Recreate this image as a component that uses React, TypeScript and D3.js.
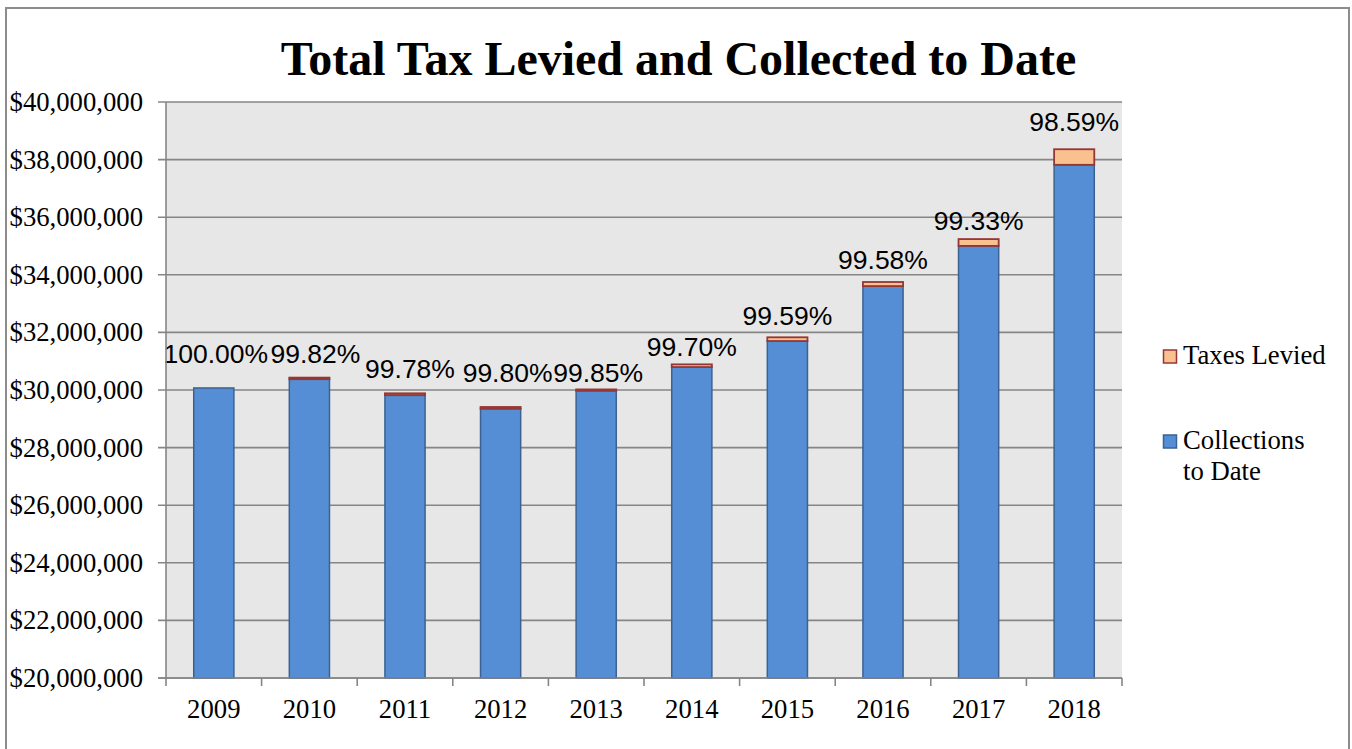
import React from "react";
import * as d3 from "d3";

// ---- data ----
const years = ["2009", "2010", "2011", "2012", "2013", "2014", "2015", "2016", "2017", "2018"];
const collectionsToDate = [30070000, 30375000, 29819000, 29351000, 29975000, 30797000, 31700000, 33608000, 35004000, 37819000];
const taxesLevied = [30070000, 30430000, 29885000, 29410000, 30020000, 30890000, 31830000, 33750000, 35240000, 38360000];
const collectionRate = ["100.00%", "99.82%", "99.78%", "99.80%", "99.85%", "99.70%", "99.59%", "99.58%", "99.33%", "98.59%"];
const yTicks = [20000000, 22000000, 24000000, 26000000, 28000000, 30000000, 32000000, 34000000, 36000000, 38000000, 40000000];

// ---- layout (not data) ----
const W = 1352;
const H = 749;
const plot = { left: 166, right: 1122, top: 102, bottom: 678 };
const labelGap = [25, 15, 15, 25, 7, 8, 12, 13, 9, 18];
const labelShift = [2, 6, 5, 7, 2, 0, 0, 0, 0, 0];

const BLUE = "#558ED5";
const BLUE_EDGE = "#3B6290";
const PEACH = "#FAC090";
const PEACH_EDGE = "#953735";
const GRID = "#868686";

export default function App() {
  const x = d3.scaleBand<string>().domain(years).range([plot.left, plot.right]).padding(0);
  const y = d3.scaleLinear().domain([20000000, 40000000]).range([plot.bottom, plot.top]);
  const bw = x.bandwidth() * 0.42;
  const fmt = (v: number) => "$" + d3.format(",")(v);
  const serif = "'Liberation Serif', 'Times New Roman', serif";
  const sans = "'Liberation Sans', Arial, sans-serif";
  const fs = 26.7;

  return (
    <svg width={W} height={H} style={{ position: "absolute", left: 0, top: 0, background: "#fff" }}>
      <rect x={6} y={8} width={1343} height={760} fill="#fff" stroke="#8c8c8c" strokeWidth={2} />
      <text x={678.5} y={75} textAnchor="middle" fontFamily={serif} fontWeight="bold" fontSize={48} fill="#000">
        Total Tax Levied and Collected to Date
      </text>
      <rect x={plot.left} y={plot.top} width={plot.right - plot.left} height={plot.bottom - plot.top} fill="#E7E7E7" />
      {yTicks.map((t) => (
        <g key={t}>
          <line x1={158} x2={plot.right} y1={y(t)} y2={y(t)} stroke={GRID} strokeWidth={1.6} />
          <text x={143} y={y(t) + 9} textAnchor="end" fontFamily={serif} fontSize={fs} fill="#000">
            {fmt(t)}
          </text>
        </g>
      ))}
      {years.map((yr, i) => {
        const cx = (x(yr) as number) + x.bandwidth() / 2;
        const yc = y(collectionsToDate[i]);
        const yl = y(taxesLevied[i]);
        return (
          <g key={yr}>
            <rect x={cx - bw / 2} y={yc} width={bw} height={plot.bottom - yc} fill={BLUE} stroke={BLUE_EDGE} strokeWidth={1.5} />
            {taxesLevied[i] - collectionsToDate[i] > 0 && (
              <rect x={cx - bw / 2} y={yl} width={bw} height={Math.max(yc - yl, 0.5)} fill={PEACH} stroke={PEACH_EDGE} strokeWidth={1.8} />
            )}
            <text x={cx + labelShift[i]} y={yl - labelGap[i]} textAnchor="middle" fontFamily={sans} fontSize={26.5} fill="#000">
              {collectionRate[i]}
            </text>
            <text x={cx} y={718} textAnchor="middle" fontFamily={serif} fontSize={fs} fill="#000">
              {yr}
            </text>
          </g>
        );
      })}
      <line x1={plot.left} x2={plot.left} y1={plot.top} y2={plot.bottom} stroke={GRID} strokeWidth={1.6} />
      <line x1={158} x2={plot.right} y1={plot.bottom} y2={plot.bottom} stroke={GRID} strokeWidth={1.6} />
      {[...years.map((yr) => x(yr) as number), plot.right].map((tx, i) => (
        <line key={i} x1={tx} x2={tx} y1={plot.bottom} y2={plot.bottom + 8} stroke={GRID} strokeWidth={1.6} />
      ))}
      <rect x={1163.5} y={350} width={13} height={13} fill={PEACH} stroke={PEACH_EDGE} strokeWidth={1.5} />
      <text x={1183} y={364} fontFamily={serif} fontSize={fs} fill="#000">Taxes Levied</text>
      <rect x={1163.5} y={435} width={13} height={13} fill={BLUE} stroke={BLUE_EDGE} strokeWidth={1.5} />
      <text x={1183} y={449} fontFamily={serif} fontSize={fs} fill="#000">Collections</text>
      <text x={1183} y={480} fontFamily={serif} fontSize={fs} fill="#000">to Date</text>
    </svg>
  );
}
